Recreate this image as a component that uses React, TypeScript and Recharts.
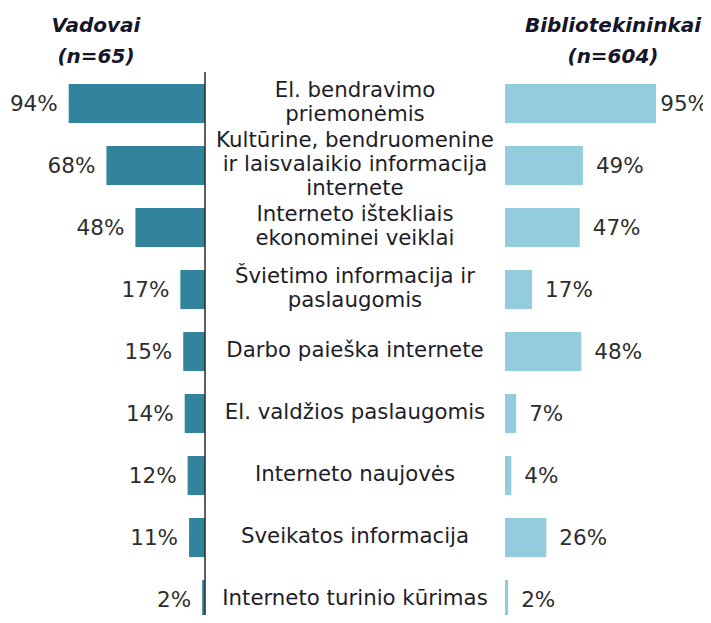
import React from "react";
import { BarChart, Bar, XAxis, YAxis, LabelList } from "recharts";

const categories = [
  "El. bendravimo\npriemonėmis",
  "Kultūrine, bendruomenine\nir laisvalaikio informacija\ninternete",
  "Interneto ištekliais\nekonominei veiklai",
  "Švietimo informacija ir\npaslaugomis",
  "Darbo paieška internete",
  "El. valdžios paslaugomis",
  "Interneto naujovės",
  "Sveikatos informacija",
  "Interneto turinio kūrimas",
];
const vadovai = [94, 68, 48, 17, 15, 14, 12, 11, 2];
const bibliotekininkai = [95, 49, 47, 17, 48, 7, 4, 26, 2];

const rows = categories.map((name, i) => ({
  name,
  vadovai: vadovai[i],
  bibliotekininkai: bibliotekininkai[i],
}));

const FONT = "'DejaVu Sans', Verdana, sans-serif";
const TEXT = "#1e1e28";
const LABEL = "#2e2e2e";
const LEFT_AXIS_X = 205;
const RIGHT_AXIS_X = 505;
const CENTER_X = (LEFT_AXIS_X + RIGHT_AXIS_X) / 2;
const LINE_H = 24;
const LABEL_SIZE = 21.5;
const PAGE_W = 711;

function CenterTick({ y, payload }: any) {
  const lines = String(payload.value).split("\n");
  const startY = y - ((lines.length - 1) * LINE_H) / 2 - 2;
  return (
    <text
      x={CENTER_X}
      y={startY}
      textAnchor="middle"
      dominantBaseline="central"
      fontFamily={FONT}
      fontSize={21.3}
      fill={TEXT}
    >
      {lines.map((l, i) => (
        <tspan key={i} x={CENTER_X} dy={i === 0 ? 0 : LINE_H}>
          {l}
        </tspan>
      ))}
    </text>
  );
}

function LeftLabel({ x, y, width, height, value }: any) {
  const left = Math.min(x, x + width);
  return (
    <text
      x={left - 11}
      y={y + height / 2}
      textAnchor="end"
      dominantBaseline="central"
      fontFamily={FONT}
      fontSize={LABEL_SIZE}
      fill={LABEL}
    >
      {value}%
    </text>
  );
}

function RightLabel({ x, y, width, height, value }: any) {
  const right = Math.max(x, x + width);
  // rough text width, so the longest label stays inside the page
  const w = (String(value).length * 0.636 + 0.95) * LABEL_SIZE;
  return (
    <text
      x={Math.min(right + 13, PAGE_W - 3 - w)}
      y={y + height / 2}
      textAnchor="start"
      dominantBaseline="central"
      fontFamily={FONT}
      fontSize={LABEL_SIZE}
      fill={LABEL}
    >
      {value}%
    </text>
  );
}

const headStyle: React.CSSProperties = {
  position: "absolute",
  fontFamily: FONT,
  fontWeight: "bold",
  fontStyle: "italic",
  fontSize: 20,
  color: "#16162a",
  textAlign: "center",
  lineHeight: "31px",
};

export default function App() {
  return (
    <div
      style={{
        position: "relative",
        width: PAGE_W,
        height: 623,
        margin: -8,
        overflow: "hidden",
        background: "#fff",
      }}
    >
      {/* title line above, mostly outside the crop */}
      <div
        style={{
          ...headStyle,
          fontStyle: "normal",
          left: 0,
          width: PAGE_W,
          top: -15,
          fontSize: 17,
          lineHeight: "22px",
        }}
      >
        Bibliotekininkų
      </div>
      <div style={{ ...headStyle, left: 36, width: 120, top: 10 }}>
        Vadovai
        <br />
        (n=65)
      </div>
      <div style={{ ...headStyle, left: 513, width: 200, top: 10 }}>
        Bibliotekininkai
        <br />
        (n=604)
      </div>

      <div style={{ position: "absolute", left: 0, top: 0 }}>
        <BarChart
          width={RIGHT_AXIS_X + 1}
          height={640}
          data={rows}
          layout="vertical"
          margin={{ top: 72, right: 0, left: 60, bottom: 10 }}
        >
          <XAxis type="number" domain={[0, 100]} reversed hide />
          <YAxis
            type="category"
            dataKey="name"
            orientation="right"
            width={RIGHT_AXIS_X + 1 - LEFT_AXIS_X}
            axisLine={{ stroke: "#2a2a2a", strokeWidth: 1.5 }}
            tickLine={false}
            tick={<CenterTick />}
            interval={0}
          />
          <Bar dataKey="vadovai" fill="#31849b" barSize={39} isAnimationActive={false}>
            <LabelList dataKey="vadovai" content={<LeftLabel />} />
          </Bar>
        </BarChart>
      </div>

      <div style={{ position: "absolute", left: 0, top: 0 }}>
        <BarChart
          width={PAGE_W}
          height={640}
          data={rows}
          layout="vertical"
          margin={{ top: 72, right: 47, left: RIGHT_AXIS_X, bottom: 10 }}
        >
          <XAxis type="number" domain={[0, 100]} hide />
          <YAxis
            type="category"
            dataKey="name"
            width={0}
            axisLine={{ stroke: "#2a2a2a", strokeWidth: 1.5 }}
            tickLine={false}
            tick={false}
          />
          <Bar
            dataKey="bibliotekininkai"
            fill="#93cddd"
            barSize={39}
            isAnimationActive={false}
          >
            <LabelList dataKey="bibliotekininkai" content={<RightLabel />} />
          </Bar>
        </BarChart>
      </div>
    </div>
  );
}
